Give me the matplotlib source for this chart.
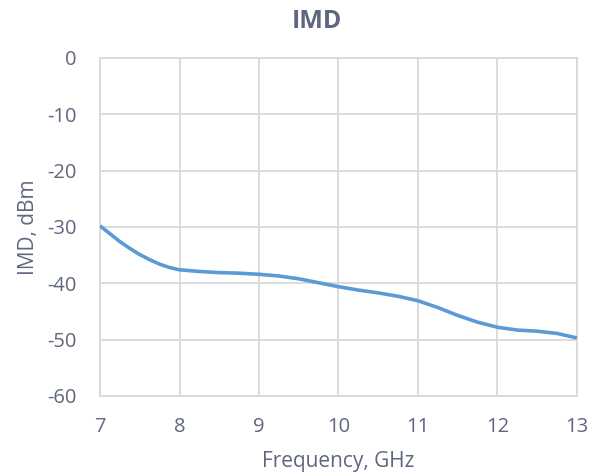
import matplotlib.pyplot as plt

plt.rcParams['font.family'] = ['Open Sans', 'DejaVu Sans']
plt.rcParams['axes.unicode_minus'] = False

freq = [7.0, 7.125, 7.25, 7.375, 7.5, 7.625, 7.75, 7.875, 8.0, 8.25, 8.5,
        8.75, 9.0, 9.25, 9.5, 9.75, 10.0, 10.25, 10.5, 10.75, 11.0, 11.25,
        11.5, 11.75, 12.0, 12.25, 12.5, 12.75, 13.0]
imd = [-29.8, -31.2, -32.6, -33.8, -34.9, -35.8, -36.6, -37.2, -37.6, -37.9,
       -38.1, -38.2, -38.4, -38.7, -39.2, -39.9, -40.6, -41.2, -41.7, -42.3,
       -43.1, -44.3, -45.7, -46.9, -47.8, -48.3, -48.5, -48.9, -49.7]
xticks = [7, 8, 9, 10, 11, 12, 13]
yticks = [0, -10, -20, -30, -40, -50, -60]

txt = '#5f6680'
grid = '#d9d9d9'

fig = plt.figure(figsize=(6.05, 4.76), dpi=100)
ax = fig.add_axes([0.1653, 0.1681, 0.7884, 0.7101])

ax.plot(freq, imd, color='#5b9bd5', lw=2.6, solid_joinstyle='round',
        solid_capstyle='butt', zorder=3)

ax.set_xlim(7, 13)
ax.set_ylim(-60, 0)
ax.set_xticks(xticks)
ax.set_yticks(yticks)
ax.grid(True, color=grid, lw=1.3)
for s in ax.spines.values():
    s.set_color(grid)
    s.set_linewidth(1.3)
ax.tick_params(length=0, colors=txt, labelsize=14.5)
ax.tick_params(axis='x', pad=15)
ax.tick_params(axis='y', pad=17)

ax.set_xlabel('Frequency, GHz', color=txt, fontsize=15, va='center')
ax.set_ylabel('IMD, dBm', color=txt, fontsize=15, va='center')
ax.xaxis.set_label_coords(0.5, -66 / 338)
ax.yaxis.set_label_coords(-72 / 477, 0.5)
fig.text(317 / 605, 1 - 21 / 476, 'IMD', color=txt, fontsize=18,
         fontweight='bold', ha='center', va='center')

fig.savefig('out.png', dpi=100)
